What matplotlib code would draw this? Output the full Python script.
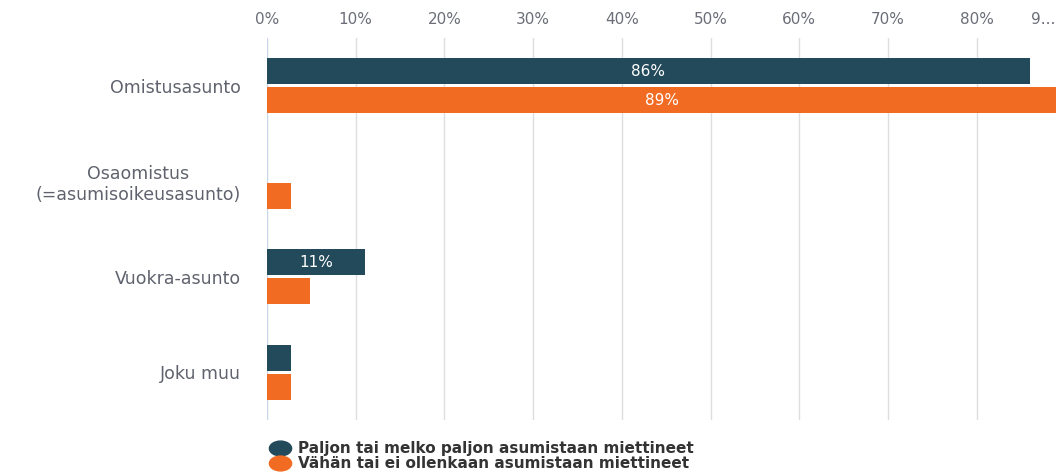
import matplotlib.pyplot as plt
from matplotlib.lines import Line2D
from matplotlib.path import Path
from matplotlib.transforms import Affine2D

plt.rcParams['font.family'] = ['DejaVu Sans']

# Asumismuodot
categories = ["Omistusasunto", "Osaomistus\n(=asumisoikeusasunto)", "Vuokra-asunto", "Joku muu"]
paljon = [86, 0, 11, 2.7]
vahan = [89, 2.7, 4.9, 2.7]
series_names = ["Paljon tai melko paljon asumistaan miettineet",
                "Vähän tai ei ollenkaan asumistaan miettineet"]
colors = ["#234a5a", "#f26b22"]
tick_values = [0, 10, 20, 30, 40, 50, 60, 70, 80]

fig = plt.figure(figsize=(10.56, 4.72), dpi=100)
# akseli jatkuu kuvan oikean reunan yli (90 % rajautuu pois)
ax = fig.add_axes([267 / 1056, 52 / 472, 887 / 1056, 382 / 472])

h = 0.27
off = 0.152
ys = range(len(categories))
for i, y in enumerate(ys):
    for val, dy, c in ((paljon[i], -off, colors[0]), (vahan[i], off, colors[1])):
        if val <= 0:
            continue
        ax.barh(y + dy, val, height=h, color=c, zorder=3)
        if val >= 8:
            ax.text(val / 2, y + dy, f"{val:.0f}%", ha="center", va="center",
                    color="white", fontsize=11, zorder=4)

ax.set_xlim(0, 100)
ax.set_ylim(3.5, -0.5)
ax.set_xticks(tick_values + [90])
ax.set_xticklabels([f"{v}%" for v in tick_values] + [""])
ax.xaxis.tick_top()
ax.tick_params(axis="x", length=0, pad=8, labelsize=11, labelcolor="#6b6e78")
ax.set_yticks(list(ys))
ax.set_yticklabels(categories, fontsize=12.5, color="#60636e", ha="right")
ax.tick_params(axis="y", length=0, pad=19)
for lab in ax.get_yticklabels():
    lab.set_multialignment("center")

ax.grid(axis="x", color="#dedede", linewidth=1, zorder=0)
for s in ax.spines.values():
    s.set_visible(False)
ax.axvline(0, color="#c9d5ec", linewidth=1.5, zorder=2)

fig.text(1031 / 1056, 1 - 19 / 472, "9...", ha="left", va="center",
         fontsize=11, color="#6b6e78")

ellipse = Path.unit_circle().transformed(Affine2D().scale(1.5, 1.0))
handles = [Line2D([], [], marker=ellipse, linestyle="", markersize=16, color=c)
           for c in colors]
fig.legend(handles, series_names, loc="upper left",
           bbox_to_anchor=(271 / 1056, 1 - 441 / 472), frameon=False,
           labelspacing=0.0, handletextpad=0.6,
           handlelength=1.2, borderpad=0, borderaxespad=0,
           labelcolor="#333333", prop={"weight": "bold", "size": 11})

fig.savefig("out.png", dpi=100)
